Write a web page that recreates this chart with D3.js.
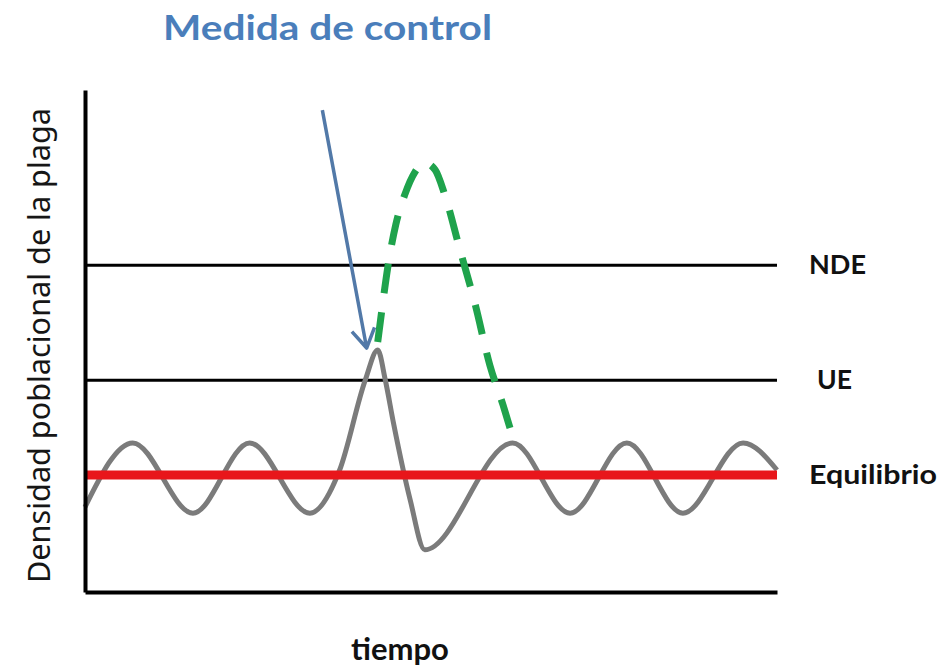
<!DOCTYPE html>
<html>
<head>
<meta charset="utf-8">
<script src="https://cdn.jsdelivr.net/npm/d3@7"></script>
<style>
	body { margin: 0; background: #fff; }
	svg { display: block; }
	text { font-family: Lato, 'Open Sans', sans-serif; }
</style>
</head>
<body>
<svg id="chart" width="939" height="671"></svg>
<script>
/////////////////////////////////////////////////////////////////////////
// data (time 0-100, density 0-100)

var levelNames = ['NDE', 'UE', 'Equilibrio']
var levelValues = [65.1, 42.2, 23.3]

var pestTime    = [0, 6.9, 15.6, 23.8, 32.5, 36.8, 40.5, 42.3, 43.4, 44.6, 47.0, 49.1, 61.8, 70.1, 78.3, 86.4, 95.1, 100]
var pestDensity = [16.9, 29.7, 15.7, 29.7, 15.7, 24.3, 42.2, 48.2, 42.2, 33.5, 18.3, 8.4, 29.7, 15.7, 29.7, 15.7, 29.7, 24.3]

var noControlTime    = [42.3, 42.9, 43.8, 44.9, 46.2, 47.7, 49.1, 50.6, 52.0, 54.2, 56.4, 58.5, 60.4, 61.8]
var noControlDensity = [49.8, 56.2, 65.1, 73.1, 79.1, 83.7, 85.5, 84.1, 79.1, 68.1, 57.2, 45.2, 37.3, 30.9]

// control measure arrow: [time, density] start and end
var arrowFrom = [34.3, 96.0]
var arrowTo   = [40.7, 48.6]

/////////////////////////////////////////////////////////////////////////
// layout

var svg = d3.select('#chart')
var x = d3.scaleLinear().domain([0, 100]).range([85, 777])
var y = d3.scaleLinear().domain([0, 100]).range([592, 90])

var line = d3.line()
	.x(function(d) { return x(d[0]) })
	.y(function(d) { return y(d[1]) })
	.curve(d3.curveMonotoneX)

/////////////////////////////////////////////////////////////////////////
// reference levels

svg.selectAll('.level').data(levelNames.slice(0, 2)).enter().append('line')
	.attr('class', 'level')
	.attr('x1', x(0)).attr('x2', x(100))
	.attr('y1', function(d, i) { return y(levelValues[i]) })
	.attr('y2', function(d, i) { return y(levelValues[i]) })
	.attr('stroke', '#000').attr('stroke-width', 3)

// pest curve
svg.append('path')
	.datum(d3.zip(pestTime, pestDensity))
	.attr('d', line)
	.attr('fill', 'none')
	.attr('stroke', '#7b7b7b')
	.attr('stroke-width', 5)
	.attr('stroke-linejoin', 'round')

// equilibrium
svg.append('line')
	.attr('x1', x(0)).attr('x2', x(100))
	.attr('y1', y(levelValues[2])).attr('y2', y(levelValues[2]))
	.attr('stroke', '#e8161b').attr('stroke-width', 9)

// without control
svg.append('path')
	.datum(d3.zip(noControlTime, noControlDensity))
	.attr('d', line)
	.attr('fill', 'none')
	.attr('stroke', '#1fa34c')
	.attr('stroke-width', 7)
	.attr('stroke-dasharray', '30 19')

// arrow
var ax0 = x(arrowFrom[0]), ay0 = y(arrowFrom[1])
var ax1 = x(arrowTo[0]), ay1 = y(arrowTo[1])
var ang = Math.atan2(ay0 - ay1, ax0 - ax1)
var head = 22, spread = 0.55
var arrowPath = d3.path()
arrowPath.moveTo(ax0, ay0)
arrowPath.lineTo(ax1, ay1)
arrowPath.moveTo(ax1 + head * Math.cos(ang - spread), ay1 + head * Math.sin(ang - spread))
arrowPath.lineTo(ax1, ay1)
arrowPath.lineTo(ax1 + head * Math.cos(ang + spread), ay1 + head * Math.sin(ang + spread))

svg.append('path')
	.attr('d', arrowPath.toString())
	.attr('fill', 'none')
	.attr('stroke', '#5279a8')
	.attr('stroke-width', 3.5)
	.attr('stroke-linejoin', 'round')

/////////////////////////////////////////////////////////////////////////
// axes (no ticks)

svg.append('g')
	.attr('transform', 'translate(' + x(0) + ',0)')
	.call(d3.axisLeft(y).ticks(0).tickSize(0).tickSizeOuter(0))
	.call(function(g) { g.select('.domain').attr('stroke', '#000').attr('stroke-width', 4) })

svg.append('g')
	.attr('transform', 'translate(0,' + y(0) + ')')
	.call(d3.axisBottom(x).ticks(0).tickSize(0).tickSizeOuter(0))
	.call(function(g) { g.select('.domain').attr('stroke', '#000').attr('stroke-width', 4) })

/////////////////////////////////////////////////////////////////////////
// texts

var labelWidth = [57, 35, 128]
svg.selectAll('.lvl-label').data(levelNames).enter().append('text')
	.attr('class', 'lvl-label')
	.attr('x', function(d, i) { return i === 1 ? 817 : 809 })
	.attr('y', function(d, i) { return y(levelValues[i]) + 9 })
	.attr('font-size', 27)
	.attr('font-weight', 700)
	.attr('fill', '#111')
	.attr('textLength', function(d, i) { return labelWidth[i] })
	.attr('lengthAdjust', 'spacingAndGlyphs')
	.text(function(d) { return d })

svg.append('text')
	.attr('x', 163).attr('y', 40)
	.attr('font-size', 35)
	.attr('font-weight', 700)
	.attr('fill', '#4a7ebb')
	.attr('textLength', 329)
	.attr('lengthAdjust', 'spacingAndGlyphs')
	.text('Medida de control')

svg.append('text')
	.attr('transform', 'translate(50,583) rotate(-90)')
	.style('font-family', "'Noto Sans', sans-serif")
	.attr('font-size', 30)
	.attr('fill', '#161616')
	.attr('textLength', 475)
	.attr('lengthAdjust', 'spacingAndGlyphs')
	.text('Densidad poblacional de la plaga')

svg.append('text')
	.attr('x', 400).attr('y', 660)
	.attr('text-anchor', 'middle')
	.attr('font-size', 31)
	.attr('font-weight', 700)
	.attr('fill', '#111')
	.text('tiempo')
</script>
</body>
</html>
